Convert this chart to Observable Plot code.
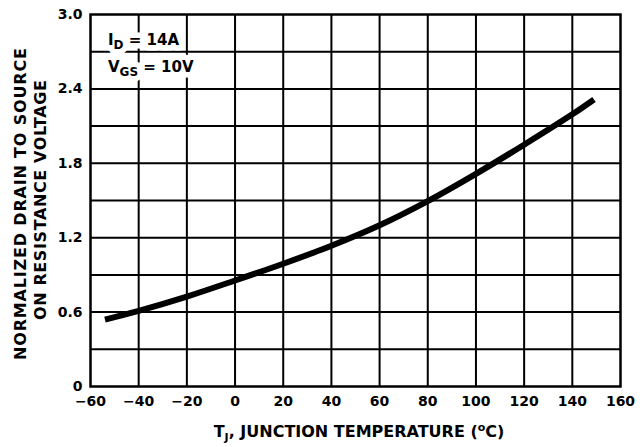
<!DOCTYPE html>
<html>
<head>
<meta charset="utf-8">
<script src="https://cdn.jsdelivr.net/npm/d3@7"></script>
<script src="https://cdn.jsdelivr.net/npm/@observablehq/plot@0.6"></script>
<style>
  html, body { margin: 0; padding: 0; background: #fff; }
  svg { display: block; }
</style>
</head>
<body>
<div id="chart"></div>
<script>
// Junction temperature (°C) and normalized on-resistance
const temps = [-54, -40, -20, 0, 20, 40, 60, 80, 100, 120, 140, 149];
const rdsOn = [0.54, 0.61, 0.725, 0.855, 0.99, 1.135, 1.30, 1.495, 1.715, 1.95, 2.195, 2.315];

const xTicks = [-60, -40, -20, 0, 20, 40, 60, 80, 100, 120, 140, 160];
const yTicks = [0, 0.6, 1.2, 1.8, 2.4, 3.0];
const yTickLabels = ["0", "0.6", "1.2", "1.8", "2.4", "3.0"];
const xGrid = [-40, -20, 0, 20, 40, 60, 80, 100, 120, 140];
const yGrid = [0.3, 0.6, 0.9, 1.2, 1.5, 1.8, 2.1, 2.4, 2.7];

const condLine1 = {main: "I", sub: "D", rest: " = 14A"};
const condLine2 = {main: "V", sub: "GS", rest: " = 10V"};
const yLabelLines = ["NORMALIZED DRAIN TO SOURCE", "ON RESISTANCE VOLTAGE"];

const data = temps.map((t, i) => ({t, v: rdsOn[i]}));

const FONT = "'DejaVu Sans', 'Liberation Sans', Arial, sans-serif";

const chart = Plot.plot({
  width: 643,
  height: 447,
  marginLeft: 90,
  marginRight: 23,
  marginTop: 14,
  marginBottom: 61,
  style: {fontFamily: FONT, fontSize: "14px", fontWeight: "bold", background: "#fff", color: "#000", overflow: "visible"},
  x: {domain: [-60, 160]},
  y: {domain: [0, 3]},
  marks: [
    Plot.gridX(xGrid, {stroke: "#000", strokeOpacity: 1, strokeWidth: 2}),
    Plot.gridY(yGrid, {stroke: "#000", strokeOpacity: 1, strokeWidth: 2}),
    Plot.line(data, {x: "t", y: "v", stroke: "#000", strokeWidth: 6, curve: "catmull-rom", strokeLinecap: "butt"}),
    Plot.frame({stroke: "#000", strokeWidth: 2.5}),
    Plot.axisX(xTicks, {tickSize: 0, tickPadding: 10, label: null, fontSize: 14, fontWeight: "bold", fill: "#000"}),
    Plot.axisY(yTicks, {tickSize: 0, tickPadding: 8, label: null, fontSize: 14, fontWeight: "bold", fill: "#000",
      tickFormat: d => yTickLabels[yTicks.indexOf(d)]})
  ]
});

document.getElementById("chart").appendChild(chart);

const svg = d3.select(chart);
const xs = chart.scale("x");
const ys = chart.scale("y");
const fLeft = xs.apply(-60), fRight = xs.apply(160);
const fTop = ys.apply(3), fBottom = ys.apply(0);

// Condition text with white halo (halo layer first, then the text)
function condText(line, px, py, halo) {
  const t = svg.append("text")
    .attr("x", px).attr("y", py)
    .attr("text-anchor", "start")
    .attr("font-family", FONT).attr("font-size", 15).attr("font-weight", "bold");
  if (halo) {
    t.attr("fill", "#fff").attr("stroke", "#fff").attr("stroke-width", 11).attr("stroke-linejoin", "round");
  } else {
    t.attr("fill", "#000");
  }
  t.append("tspan").text(line.main);
  t.append("tspan").attr("dy", 4).attr("font-size", 12).text(line.sub);
  t.append("tspan").attr("dy", -4).text(line.rest);
}
for (const halo of [true, false]) {
  condText(condLine1, fLeft + 18, fTop + 31, halo);
  condText(condLine2, fLeft + 18, fTop + 58, halo);
}

// Y axis title (two rotated lines)
const yCenters = [[26, 204, 312], [46, 200, 240]];
yLabelLines.forEach((s, i) => {
  const [bx, cy, len] = yCenters[i];
  svg.append("text")
    .attr("transform", `translate(${bx},${cy}) rotate(-90)`)
    .attr("text-anchor", "middle")
    .attr("font-family", FONT).attr("font-size", 16).attr("font-weight", "bold").attr("fill", "#000")
    .attr("textLength", len).attr("lengthAdjust", "spacing")
    .text(s);
});

// X axis title
const xt = svg.append("text")
  .attr("x", 359)
  .attr("y", fBottom + 51)
  .attr("text-anchor", "middle")
  .attr("font-family", FONT).attr("font-size", 16).attr("font-weight", "bold").attr("fill", "#000");
xt.append("tspan").text("T");
xt.append("tspan").attr("dy", 4).attr("font-size", 11).text("J");
xt.append("tspan").attr("dy", -4).text(", JUNCTION TEMPERATURE (");
xt.append("tspan").attr("dy", -6).attr("font-size", 11).text("o");
xt.append("tspan").attr("dy", 6).text("C)");
</script>
</body>
</html>
